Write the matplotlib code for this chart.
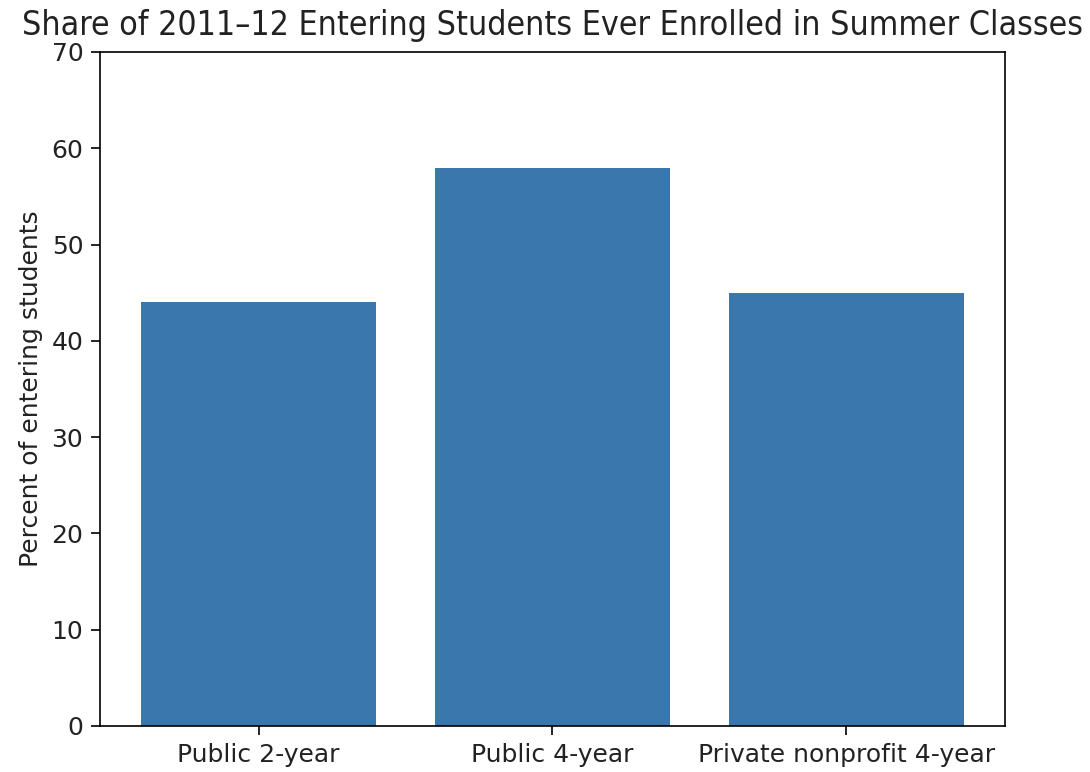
import matplotlib
matplotlib.use('Agg')
import matplotlib.pyplot as plt

# data
categories = ['Public 2-year', 'Public 4-year', 'Private nonprofit 4-year']
percents = [44, 58, 45]

plt.rcParams['font.size'] = 12
plt.rcParams['xtick.major.size'] = 4.5
plt.rcParams['ytick.major.size'] = 4.5
plt.rcParams['text.color'] = '#222222'
plt.rcParams['xtick.labelcolor'] = '#222222'
plt.rcParams['ytick.labelcolor'] = '#222222'

fig = plt.figure(figsize=(1090/150, 772/150), dpi=150)
ax = fig.add_axes([0.0917, 0.0596, 0.8303, 0.8731])

ax.bar(range(len(categories)), percents, width=0.8, color='#3A77AD')
ax.set_xticks(range(len(categories)))
ax.set_xticklabels(categories)
ax.set_ylim(0, 70)
ax.set_ylabel('Percent of entering students', color='#222222')
ax.set_title('Share of 2011\u201312 Entering Students Ever Enrolled in Summer Classes',
             fontsize=16.2, fontstretch='condensed', pad=8)

fig.savefig('out.png', dpi=150)
